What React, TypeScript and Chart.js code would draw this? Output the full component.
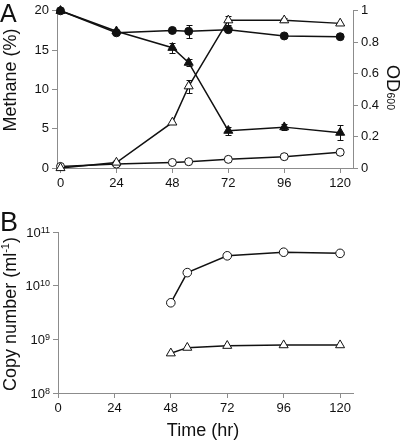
import React, { useEffect, useRef } from "react";
import { Chart, registerables } from "chart.js";

Chart.register(...registerables);

const FONT = '"Liberation Sans", Arial, Helvetica, sans-serif';
const AXIS_GRAY = "#8c8c8c";
const INK = "#111111";

// ---- Panel A data ----
const hoursA = [0, 24, 48, 55, 72, 96, 120];
const methaneFilledCircle = [20, 17.2, 17.5, 17.4, 17.6, 16.8, 16.7];
const methaneFilledCircleErr = [0, 0.25, 0, 0.8, 0, 0, 0];
const methaneFilledTriangle = [20, 17.4, 15.3, 13.4, 4.75, 5.2, 4.5];
const methaneFilledTriangleErr = [0, 0, 0.65, 0.45, 0.5, 0.4, 1.0];
const odOpenTriangle = [0, 0.035, 0.29, 0.52, 0.94, 0.94, 0.92];
const odOpenTriangleErr = [0, 0, 0, 0.04, 0.03, 0.012, 0];
const odOpenCircle = [0.01, 0.025, 0.035, 0.04, 0.055, 0.072, 0.1];

// ---- Panel B data ----
const hoursB = [48, 55, 72, 96, 120];
const copyOpenCircle = [4.8e9, 1.75e10, 3.6e10, 4.2e10, 4.0e10];
const copyOpenTriangle = [5.5e8, 7.0e8, 7.6e8, 7.8e8, 7.8e8];

// ---- Ticks ----
const xTicks = [0, 24, 48, 72, 96, 120];
const methaneTicks = [0, 5, 10, 15, 20];
const odTicks = [0, 0.2, 0.4, 0.6, 0.8, 1];
const copyTicks = [1e8, 1e9, 1e10, 1e11];

const pts = (xs: number[], ys: number[]) => xs.map((x, i) => ({ x, y: ys[i] }));

const errorBarPlugin = {
  id: "errorBars",
  beforeDatasetsDraw(chart: any) {
    const ctx = chart.ctx;
    chart.data.datasets.forEach((ds: any, di: number) => {
      const errs = ds.errors as number[] | undefined;
      if (!errs) return;
      const meta = chart.getDatasetMeta(di);
      const yScale = chart.scales[meta.yAxisID];
      ctx.save();
      ctx.strokeStyle = INK;
      ctx.lineWidth = 1;
      meta.data.forEach((el: any, i: number) => {
        const e = errs[i];
        if (!e) return;
        const v = ds.data[i].y;
        const x = Math.round(el.x) + 0.5;
        const yt = Math.round(yScale.getPixelForValue(v + e)) + 0.5;
        const yb = Math.round(yScale.getPixelForValue(v - e)) + 0.5;
        ctx.beginPath();
        ctx.moveTo(x, yt);
        ctx.lineTo(x, yb);
        ctx.moveTo(x - 3, yt);
        ctx.lineTo(x + 3, yt);
        ctx.moveTo(x - 3, yb);
        ctx.lineTo(x + 3, yb);
        ctx.stroke();
      });
      ctx.restore();
    });
  },
};

const axisBase = (ticks: number[], fixed: (s: any) => void) => ({
  border: { display: true, color: AXIS_GRAY, width: 1 },
  grid: {
    display: true,
    drawOnChartArea: false,
    drawTicks: true,
    tickLength: 5,
    color: AXIS_GRAY,
    tickColor: AXIS_GRAY,
    lineWidth: 1,
  },
  ticks: {
    color: INK,
    font: { family: FONT, size: 13 },
    padding: 3,
    autoSkip: false,
    maxRotation: 0,
  },
  afterBuildTicks: (s: any) => {
    s.ticks = ticks.map((v) => ({ value: v }));
  },
  afterFit: fixed,
});

const lineDs = (
  label: string,
  data: any[],
  yAxisID: string,
  style: string,
  filled: boolean,
  radius: number,
  errors?: number[]
) => ({
  label,
  data,
  yAxisID,
  xAxisID: "x",
  borderColor: INK,
  borderWidth: 1.5,
  pointStyle: style,
  pointRadius: radius,
  pointBorderWidth: 1,
  pointBorderColor: INK,
  pointBackgroundColor: filled ? INK : "#ffffff",
  fill: false,
  tension: 0,
  clip: false,
  errors,
});

const panelATextPlugin = {
  id: "panelAText",
  afterDraw(chart: any) {
    const ctx = chart.ctx;
    ctx.save();
    ctx.fillStyle = INK;
    ctx.textAlign = "left";
    ctx.textBaseline = "alphabetic";
    ctx.font = `25px ${FONT}`;
    ctx.fillText("A", 0, 22);

    ctx.save();
    ctx.translate(16, 80);
    ctx.rotate(-Math.PI / 2);
    ctx.font = `18px ${FONT}`;
    ctx.textAlign = "center";
    ctx.fillText("Methane (%)", 0, 0);
    ctx.restore();

    ctx.save();
    ctx.translate(387, 65);
    ctx.rotate(Math.PI / 2);
    ctx.font = `18px ${FONT}`;
    ctx.textAlign = "left";
    ctx.fillText("OD", 0, 0);
    const w = ctx.measureText("OD").width;
    ctx.font = `10.5px ${FONT}`;
    ctx.fillText("600", w + 0.5, 0);
    ctx.restore();

    ctx.restore();
  },
};

const panelBTextPlugin = {
  id: "panelBText",
  afterDraw(chart: any) {
    const ctx = chart.ctx;
    ctx.save();
    ctx.fillStyle = INK;
    ctx.textAlign = "left";
    ctx.textBaseline = "alphabetic";
    ctx.font = `27px ${FONT}`;
    ctx.fillText("B", 0, 31);

    // y tick labels as 10^n
    const ys = chart.scales.y;
    copyTicks.forEach((v) => {
      const y = ys.getPixelForValue(v);
      const exp = String(Math.round(Math.log10(v)));
      ctx.font = `9px ${FONT}`;
      const ew = ctx.measureText(exp).width;
      const right = ys.right - 8;
      ctx.fillText(exp, right - ew, y + 0.5);
      ctx.font = `13px ${FONT}`;
      const bw = ctx.measureText("10").width;
      ctx.fillText("10", right - ew - bw, y + 4.7);
    });

    // y title
    ctx.save();
    ctx.translate(16, 114);
    ctx.rotate(-Math.PI / 2);
    ctx.font = `18px ${FONT}`;
    const p1 = "Copy number (ml";
    const p3 = ")";
    const w1 = ctx.measureText(p1).width;
    const w3 = ctx.measureText(p3).width;
    ctx.font = `11px ${FONT}`;
    const p2 = "-1";
    const w2 = ctx.measureText(p2).width;
    const total = w1 + w2 + w3;
    let x0 = -total / 2;
    ctx.font = `18px ${FONT}`;
    ctx.fillText(p1, x0, 0);
    x0 += w1;
    ctx.font = `11px ${FONT}`;
    ctx.fillText(p2, x0, -7);
    x0 += w2;
    ctx.font = `18px ${FONT}`;
    ctx.fillText(p3, x0, 0);
    ctx.restore();

    // x title
    ctx.font = `18px ${FONT}`;
    ctx.textAlign = "center";
    ctx.fillText("Time (hr)", 203, 236);
    ctx.restore();
  },
};

export default function App() {
  const refA = useRef<HTMLCanvasElement | null>(null);
  const refB = useRef<HTMLCanvasElement | null>(null);

  useEffect(() => {
    Chart.defaults.font.family = FONT;
    const chartA = new Chart(refA.current as HTMLCanvasElement, {
      type: "line",
      data: {
        datasets: [
          lineDs("Methane ●", pts(hoursA, methaneFilledCircle), "y", "circle", true, 4, methaneFilledCircleErr),
          lineDs("Methane ▲", pts(hoursA, methaneFilledTriangle), "y", "triangle", true, 5.2, methaneFilledTriangleErr),
          lineDs("OD △", pts(hoursA, odOpenTriangle), "y1", "triangle", false, 5.2, odOpenTriangleErr),
          lineDs("OD ○", pts(hoursA, odOpenCircle), "y1", "circle", false, 4),
        ] as any,
      },
      options: {
        animation: false,
        responsive: false,
        devicePixelRatio: 1,
        events: [],
        layout: { padding: { top: 8, left: 0, right: 0, bottom: 0 } },
        plugins: { legend: { display: false }, tooltip: { enabled: false }, title: { display: false } },
        scales: {
          x: {
            type: "linear",
            min: -1.5,
            max: 125.5,
            position: "bottom",
            ...axisBase(xTicks, (s: any) => { s.height = 32; }),
          },
          y: {
            type: "linear",
            min: 0,
            max: 20,
            position: "left",
            ...axisBase(methaneTicks, (s: any) => { s.width = 57; }),
          },
          y1: {
            type: "linear",
            min: 0,
            max: 1,
            position: "right",
            ...axisBase(odTicks, (s: any) => { s.width = 55; }),
            ticks: {
              color: INK,
              font: { family: FONT, size: 13 },
              padding: 3,
              autoSkip: false,
              callback: (v: any) => String(Math.round(Number(v) * 10) / 10),
            },
          },
        } as any,
      },
      plugins: [errorBarPlugin, panelATextPlugin],
    });

    const chartB = new Chart(refB.current as HTMLCanvasElement, {
      type: "line",
      data: {
        datasets: [
          lineDs("Copy ○", pts(hoursB, copyOpenCircle), "y", "circle", false, 4.3),
          lineDs("Copy △", pts(hoursB, copyOpenTriangle), "y", "triangle", false, 5.2),
        ] as any,
      },
      options: {
        animation: false,
        responsive: false,
        devicePixelRatio: 1,
        events: [],
        layout: { padding: { top: 32, left: 0, right: 55, bottom: 0 } },
        plugins: { legend: { display: false }, tooltip: { enabled: false }, title: { display: false } },
        scales: {
          x: {
            type: "linear",
            min: 0,
            max: 125.5,
            position: "bottom",
            ...axisBase(xTicks, (s: any) => { s.height = 47; }),
          },
          y: {
            type: "logarithmic",
            min: 1e8,
            max: 1e11,
            position: "left",
            ...axisBase(copyTicks, (s: any) => { s.width = 58; }),
            ticks: {
              color: "rgba(0,0,0,0)",
              font: { family: FONT, size: 13 },
              padding: 3,
              autoSkip: false,
              callback: () => "",
            },
          },
        } as any,
      },
      plugins: [panelBTextPlugin],
    });

    return () => {
      chartA.destroy();
      chartB.destroy();
    };
  }, []);

  return (
    <div style={{ position: "absolute", left: 0, top: 0, width: 408, height: 440, background: "#ffffff" }}>
      <canvas ref={refA} width={408} height={200} style={{ position: "absolute", left: 0, top: 0, width: 408, height: 200, display: "block" }} />
      <canvas ref={refB} width={408} height={240} style={{ position: "absolute", left: 0, top: 200, width: 408, height: 240, display: "block" }} />
    </div>
  );
}
